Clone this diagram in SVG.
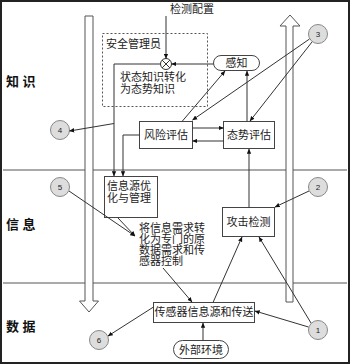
<svg xmlns="http://www.w3.org/2000/svg" width="350" height="364" viewBox="0 0 350 364">
<defs>
<marker id="ah" viewBox="0 0 8 8" refX="7.5" refY="4" markerWidth="5" markerHeight="5" orient="auto" markerUnits="userSpaceOnUse">
<path d="M0,0.5 L8,4 L0,7.5 Z" fill="#111"/>
</marker>
</defs>
<style>
text{font-family:"Liberation Sans","Noto Sans CJK SC",sans-serif;fill:#222}
.t{font-size:11px}
.row{font-size:13px;font-weight:bold;fill:#111}
.box{fill:#fff;stroke:#444;stroke-width:1}
.ln{fill:none;stroke:#333;stroke-width:1}
.ar{fill:none;stroke:#333;stroke-width:1;marker-end:url(#ah)}
.big{fill:#fff;stroke:#555;stroke-width:1}
.cir{fill:#ddd;stroke:#888;stroke-width:1}
.num{font-size:8px;text-anchor:middle;fill:#222}
</style>
<rect x="1" y="1" width="348" height="362" fill="#fff" stroke="#222" stroke-width="2"/>
<g id="bands">
<line x1="3" y1="170" x2="347" y2="170" stroke="#555" stroke-width="1"/>
<line x1="3" y1="283" x2="347" y2="283" stroke="#555" stroke-width="1"/>
<text class="row" x="6" y="86">知 识</text>
<text class="row" x="6" y="229">信 息</text>
<text class="row" x="6" y="331">数 据</text>
</g>
<g id="bigarrows">
<path class="big" d="M85,16 L93,16 L93,301 L98.5,301 L89,312 L79.5,301 L85,301 Z"/>
<path class="big" d="M286,302 L293,302 L293,26 L300,26 L290,15 L280,26 L286,26 Z"/>
</g>
<g id="manager">
<rect x="102.5" y="33.5" width="105" height="73" fill="none" stroke="#555" stroke-width="1" stroke-dasharray="2,2"/>
<text class="t" x="106" y="48">安全管理员</text>
<text class="t" x="120" y="81">状态知识转化</text>
<text class="t" x="120" y="93">为态势知识</text>
</g>
<g id="config"><text class="t" x="170" y="13">检测配置</text></g>
<g id="merge">
<circle cx="166" cy="64" r="5.5" fill="#fff" stroke="#333"/>
<path d="M162.1,60.1 L169.9,67.9 M169.9,60.1 L162.1,67.9" stroke="#333" stroke-width="1"/>
</g>
<g id="ganzhi">
<rect class="box" x="213.5" y="55.5" width="46" height="15" rx="7.5"/>
<text class="t" x="236.5" y="67" text-anchor="middle">感知</text>
</g>
<g id="fengxian">
<rect class="box" x="139.5" y="121.5" width="53" height="27"/>
<text class="t" x="166" y="139" text-anchor="middle">风险评估</text>
</g>
<g id="taishi">
<rect class="box" x="223.5" y="121.5" width="51" height="27"/>
<text class="t" x="249" y="139" text-anchor="middle">态势评估</text>
</g>
<g id="xinxiyuan">
<rect class="box" x="104.5" y="176.5" width="53" height="41"/>
<text class="t" x="107" y="190">信息源优</text>
<text class="t" x="107" y="202">化与管理</text>
</g>
<g id="note">
<text class="t" x="139" y="232">将信息需求转</text>
<text class="t" x="139" y="243">化为专门的原</text>
<text class="t" x="139" y="254">数据需求和传</text>
<text class="t" x="139" y="265">感器控制</text>
</g>
<g id="gongji">
<rect class="box" x="222.5" y="207.5" width="52" height="29"/>
<text class="t" x="248.5" y="226" text-anchor="middle">攻击检测</text>
</g>
<g id="chuanganqi">
<rect class="box" x="153.5" y="302.5" width="101" height="20"/>
<text class="t" x="204" y="316" text-anchor="middle">传感器信息源和传送</text>
</g>
<g id="waibu">
<rect class="box" x="173.5" y="340.5" width="55" height="18" rx="9"/>
<text class="t" x="201" y="353.5" text-anchor="middle">外部环境</text>
</g>
<g id="c1"><circle class="cir" cx="318" cy="330" r="9.5"/><text class="num" x="318" y="333">1</text></g>
<g id="c2"><circle class="cir" cx="318" cy="187" r="9.5"/><text class="num" x="318" y="190">2</text></g>
<g id="c3"><circle class="cir" cx="318" cy="34" r="9.5"/><text class="num" x="318" y="37">3</text></g>
<g id="c4"><circle class="cir" cx="60" cy="130" r="9.5"/><text class="num" x="60" y="133">4</text></g>
<g id="c5"><circle class="cir" cx="60" cy="187" r="9.5"/><text class="num" x="60" y="190">5</text></g>
<g id="c6"><circle class="cir" cx="99" cy="340" r="9.5"/><text class="num" x="99" y="343">6</text></g>
<g id="connectors">
<path class="ar" d="M166,16 L166,58.5"/>
<path class="ar" d="M213.5,64 L171.5,64"/>
<path class="ar" d="M160.5,64 L114,64 L114,176"/>
<path class="ar" d="M114,123.5 L69.5,131"/>
<path class="ar" d="M139.5,135 L123,135 L123,176"/>
<path class="ar" d="M182,121.5 L225,71"/>
<path class="ar" d="M247,121.5 L247,71"/>
<path class="ar" d="M309.5,39 L192.5,120"/>
<path class="ar" d="M312,42 L250,121"/>
<path class="ar" d="M192.5,128 L223.5,128"/>
<path class="ar" d="M223.5,141 L192.5,141"/>
<path class="ar" d="M249,207.5 L249,149"/>
<path class="ar" d="M309,191 L275,207"/>
<path class="ar" d="M311,323 L259,237"/>
<path class="ar" d="M308.5,327 L255,311"/>
<path class="ar" d="M69,191 L135,236"/>
<path class="ar" d="M118,218 L135,236"/>
<path class="ar" d="M163,268 L192,302"/>
<path class="ar" d="M213,302.5 L242,237"/>
<path class="ar" d="M203,340.5 L203,323"/>
<path class="ar" d="M153.5,307 L108,336"/>
</g>
</svg>
